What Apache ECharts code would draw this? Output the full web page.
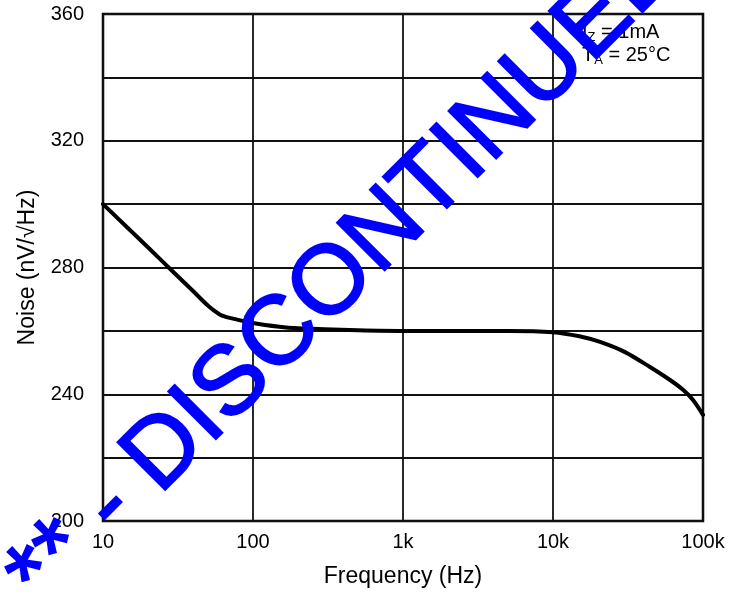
<!DOCTYPE html>
<html>
<head>
<meta charset="utf-8">
<script src="https://cdn.jsdelivr.net/npm/echarts@6/dist/echarts.min.js"></script>
<style>
html,body{margin:0;padding:0;background:#fff;}
#chart{width:740px;height:594px;}
</style>
</head>
<body>
<div id="chart"></div>
<script>
// Frequency (Hz) and noise (nV/√Hz)
var freqs = [10, 20, 30, 40, 50, 60, 70, 100, 150, 200, 300, 500, 1000, 2000, 5000, 10000, 15000, 20600, 30200, 44300, 60300, 73600, 85800, 100000];
var noise = [300, 286.3, 278.2, 272.5, 268.0, 265.2, 264.1, 262.5, 261.3, 260.8, 260.5, 260.2, 260.0, 260.0, 260.0, 259.6, 258.3, 256.5, 253.3, 248.6, 244.5, 241.4, 238.2, 233.5];
var xTickValues = [10, 100, 1000, 10000, 100000];
var xTickLabels = ['10', '100', '1k', '10k', '100k'];
var yTickLabels = [200, 240, 280, 320, 360];

var FONT = '"Liberation Sans", Arial, sans-serif';
var chart = echarts.init(document.getElementById('chart'));
var lineData = freqs.map(function (f, i) { return [f, noise[i]]; });

var fs = 98, ang = Math.PI / 4;
var bx = 47, by = 614; // baseline start of watermark
var off = 0.32 * fs;
var wx = bx - Math.sin(ang) * off, wy = by - Math.cos(ang) * off;

var richAnn = {
  m: { fontSize: 20, fontFamily: FONT, lineHeight: 23, color: '#000' },
  s: { fontSize: 13, fontFamily: FONT, padding: [9, 0, 0, 0], lineHeight: 23, color: '#000' }
};

chart.setOption({
  animation: false,
  backgroundColor: '#fff',
  textStyle: { fontFamily: FONT },
  grid: { left: 103, right: 37, top: 14, bottom: 73, show: true, borderColor: '#000', borderWidth: 2.5, backgroundColor: 'transparent' },
  xAxis: {
    type: 'log', logBase: 10, min: 10, max: 100000,
    axisLine: { show: false }, axisTick: { show: false },
    splitLine: { show: true, lineStyle: { color: '#111', width: 1.8 } },
    axisLabel: {
      color: '#000', fontSize: 20, margin: 11, fontFamily: FONT,
      formatter: function (v) { var i = xTickValues.indexOf(Math.round(v)); return i >= 0 ? xTickLabels[i] : ''; }
    },
    name: 'Frequency (Hz)', nameLocation: 'middle', nameGap: 44,
    nameTextStyle: { color: '#000', fontSize: 23, fontFamily: FONT }
  },
  yAxis: {
    type: 'value', min: 200, max: 360, interval: 20,
    axisLine: { show: false }, axisTick: { show: false },
    splitLine: { show: true, lineStyle: { color: '#111', width: 1.8 } },
    axisLabel: {
      color: '#000', fontSize: 20, margin: 19, fontFamily: FONT,
      formatter: function (v) { return yTickLabels.indexOf(v) >= 0 ? String(v) : ''; }
    },
    name: 'Noise (nV/√Hz)', nameLocation: 'middle', nameGap: 64, nameRotate: 90,
    nameTextStyle: { color: '#000', fontSize: 23, fontFamily: FONT }
  },
  series: [{
    type: 'line', data: lineData, showSymbol: false, smooth: 0.3,
    lineStyle: { color: '#000', width: 4, join: 'round', cap: 'round' }, z: 3
  }],
  graphic: [
    {
      type: 'text', x: 582, y: 21, z: 10,
      style: { text: '{m|I}{s|Z}{m| = 1mA}', fontFamily: FONT, fill: '#000', rich: richAnn }
    },
    {
      type: 'text', x: 582, y: 44, z: 10,
      style: { text: '{m|T}{s|A}{m| = 25°C}', fontFamily: FONT, fill: '#000', rich: richAnn }
    },
    {
      type: 'text', x: wx, y: wy, rotation: ang, z: 20,
      style: {
        text: '** - DISCONTINUED **', fontSize: fs, fontFamily: FONT, fill: '#0000FF',
        stroke: '#0000FF', lineWidth: 2,
        align: 'left', verticalAlign: 'middle'
      }
    }
  ]
});
</script>
</body>
</html>
